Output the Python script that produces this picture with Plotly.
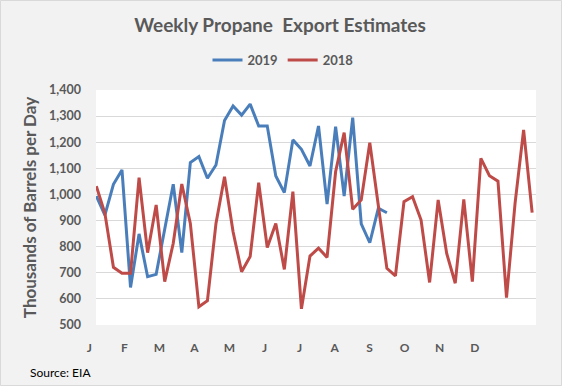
import plotly.graph_objects as go

weeks_2018 = list(range(52))
values_2018 = [1032, 928, 721, 698, 698, 1064, 777, 960, 666, 813,
               1040, 889, 570, 593, 889, 1068, 857, 704, 762, 1045,
               797, 889, 713, 1011, 562, 764, 794, 759, 1087, 1237,
               943, 979, 1198, 956, 717, 688, 972, 991, 902, 663,
               979, 774, 660, 981, 666, 1138, 1072, 1051, 605, 966,
               1247, 930]

weeks_2019 = list(range(35))
values_2019 = [994, 921, 1039, 1094, 644, 849, 685, 694, 867, 1039,
               777, 1122, 1145, 1062, 1113, 1283, 1339, 1304, 1346, 1262,
               1262, 1071, 1007, 1209, 1173, 1109, 1262, 963, 1260, 994,
               1294, 887, 815, 947, 930]

month_labels = ["J", "F", "M", "A", "M", "J", "J", "A", "S", "O", "N", "D"]

W, H = 562, 386
L, R, T, B = 96, 26, 90, 61
pw, ph = W - L - R, H - T - B

# month labels sit on a fixed spacing in week units
month_step = 4.1
month_ticks = [i * month_step for i in range(len(month_labels))]

txt = "#595959"
font = "Lato, Carlito, 'Open Sans', sans-serif"

fig = go.Figure()
fig.add_trace(go.Scatter(x=weeks_2019, y=values_2019, mode="lines", name="2019",
                         line=dict(color="#4a7ebb", width=3)))
fig.add_trace(go.Scatter(x=weeks_2018, y=values_2018, mode="lines", name="2018",
                         line=dict(color="#be4b48", width=3)))

fig.update_layout(
    width=W, height=H,
    margin=dict(l=L, r=R, t=T, b=B),
    paper_bgcolor="#f2f2f2",
    plot_bgcolor="#ffffff",
    font=dict(family=font, color=txt, size=12),
    title=dict(text="<b>Weekly Propane  Export Estimates</b>", x=280 / W, xanchor="center",
               xref="container", yref="container", y=1 - 25 / H, yanchor="middle",
               font=dict(size=19, color=txt, family=font)),
    legend=dict(orientation="h", x=(283 - L) / pw, xanchor="center",
                y=(H - B - 60) / ph, yanchor="middle",
                font=dict(size=13, color=txt, family=font, weight="bold"),
                bgcolor="rgba(0,0,0,0)", itemwidth=30),
    showlegend=True,
)

fig.update_xaxes(range=[-0.04, 51.45], tickvals=month_ticks, ticktext=month_labels,
                 showgrid=False, zeroline=False, showline=False, ticks="",
                 ticklabelstandoff=14, ticklabelshift=-7,
                 tickfont=dict(size=12, color=txt, family=font, weight="bold"))
fig.update_yaxes(range=[500, 1400], dtick=100, tickformat=",",
                 showgrid=True, gridcolor="#d9d9d9", gridwidth=1, zeroline=False,
                 showline=False, ticks="", ticklabelstandoff=14,
                 tickfont=dict(size=12.5, color=txt, family=font, weight="bold"),
                 title=dict(text="<b>Thousands of Barrels per Day</b>", standoff=8,
                            font=dict(size=17, color=txt, family=font)))

fig.add_annotation(text="Source: EIA", xref="paper", yref="paper",
                   x=(28 - L) / pw, y=(H - B - 372) / ph, xanchor="left", yanchor="middle",
                   showarrow=False, font=dict(size=12, color="#000000", family=font))

fig.add_shape(type="rect", xref="paper", yref="paper",
              x0=(0.5 - L) / pw, x1=(W - 0.5 - L) / pw,
              y0=(H - B - H + 0.5) / ph, y1=(H - B - 0.5) / ph,
              line=dict(color="#d9d9d9", width=1), fillcolor="rgba(0,0,0,0)", layer="below")

fig.write_html("out.html", config={"displayModeBar": False},
               post_script="document.body.style.margin='0';")
